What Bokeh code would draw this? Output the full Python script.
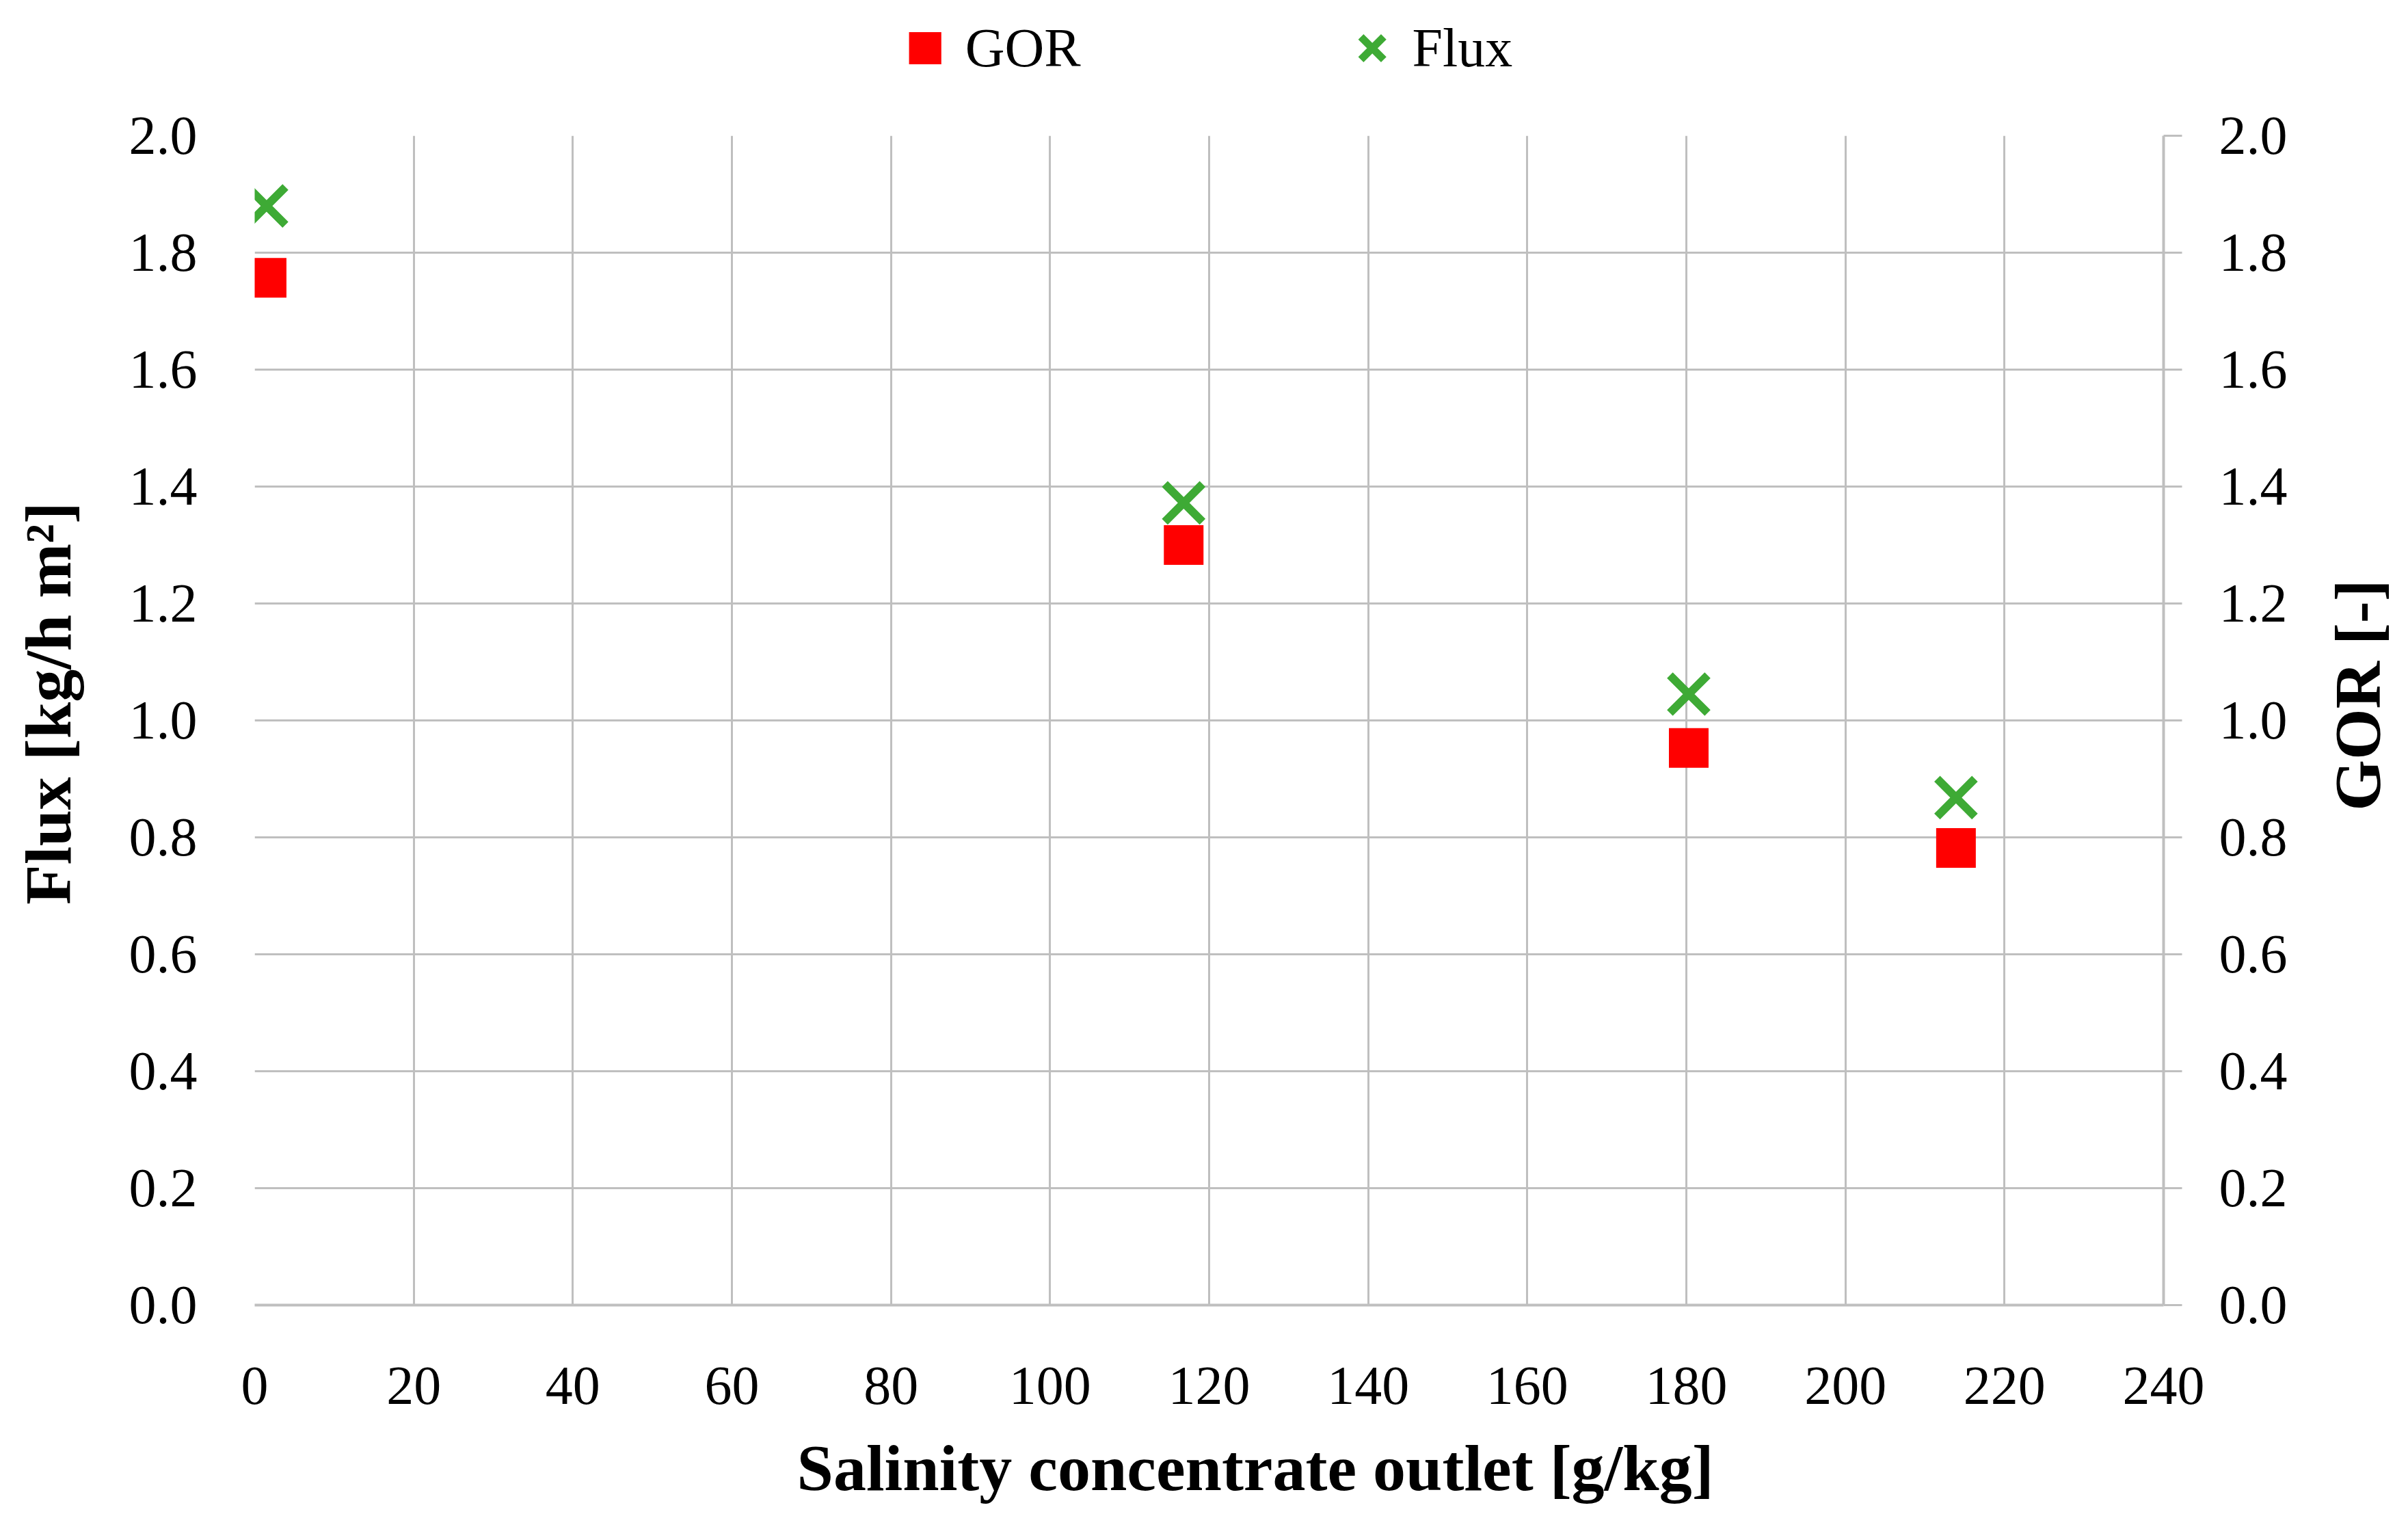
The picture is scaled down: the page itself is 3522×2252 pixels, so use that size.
import math
from bokeh.plotting import figure
from bokeh.layouts import column, row
from bokeh.models import (Range1d, LinearAxis, Legend, LegendItem, FixedTicker,
                          PrintfTickFormatter, Title, Label)
from bokeh.embed import file_html
from bokeh.resources import INLINE

# ---- data ----
salinity = [1.5, 116.8, 180.3, 213.9]          # g/kg
gor = [1.757, 1.300, 0.953, 0.782]             # GOR [-] (right axis)
flux = [1.880, 1.372, 1.045, 0.868]            # Flux [kg/h m2] (left axis)
x_ticks = [0, 20, 40, 60, 80, 100, 120, 140, 160, 180, 200, 220, 240]
y_ticks = [0.0, 0.2, 0.4, 0.6, 0.8, 1.0, 1.2, 1.4, 1.6, 1.8, 2.0]
series_names = ["GOR", "Flux"]
x_title = "Salinity  concentrate outlet [g/kg]"
left_title = "Flux [kg/h m²]"
right_title = "GOR [-]"

FONT = "Liberation Serif"
GRID = "#BFBFBF"
RED = "#FF0000"
GREEN = "#3EAA35"
TICK_FS = "80px"
TITLE_FS = "96px"

TOTAL_W = 3506
LEG_H = 140
MAIN_H = 2236 - LEG_H
LEFT_W = 180
MAIN_W = 3170
RIGHT_W = TOTAL_W - LEFT_W - MAIN_W


def blank(width, height, xr=(0, 1), yr=(0, 1)):
    f = figure(width=width, height=height, output_backend="svg",
               toolbar_location=None, title=None,
               x_range=Range1d(*xr), y_range=Range1d(*yr),
               x_axis_type=None, y_axis_type=None,
               min_border_left=0, min_border_right=0,
               min_border_top=0, min_border_bottom=0)
    f.outline_line_color = None
    f.xgrid.visible = False
    f.ygrid.visible = False
    f.background_fill_color = "white"
    f.border_fill_color = "white"
    return f


# ---------------- main chart ----------------
p = figure(width=MAIN_W, height=MAIN_H, output_backend="svg",
           toolbar_location=None, title=None,
           x_range=Range1d(0, 240), y_range=Range1d(0, 2),
           min_border_left=192, min_border_right=186,
           min_border_top=58, min_border_bottom=328)
p.extra_y_ranges = {"gor": Range1d(0, 2)}
p.outline_line_color = None
p.background_fill_color = "white"
p.border_fill_color = "white"

p.xgrid.ticker = FixedTicker(ticks=x_ticks)
p.ygrid.ticker = FixedTicker(ticks=y_ticks)
for g in (p.xgrid, p.ygrid):
    g.grid_line_color = GRID
    g.grid_line_width = 3

xa = p.xaxis[0]
xa.ticker = FixedTicker(ticks=x_ticks)
xa.axis_line_color = GRID
xa.axis_line_width = 4
xa.major_tick_line_color = None
xa.minor_tick_line_color = None
xa.major_label_standoff = 85
xa.major_label_text_font = FONT
xa.major_label_text_font_size = TICK_FS
xa.major_label_text_color = "black"

xt = Title(text=x_title, align="left", offset=793,
           text_font=FONT, text_font_style="bold", text_font_size=TITLE_FS,
           text_color="black", standoff=70)
p.add_layout(xt, "below")

ya = p.yaxis[0]
ya.ticker = FixedTicker(ticks=y_ticks)
ya.formatter = PrintfTickFormatter(format="%.1f")
ya.axis_line_color = None
ya.major_tick_line_color = None
ya.minor_tick_line_color = None
ya.major_label_standoff = 78
ya.major_label_text_font = FONT
ya.major_label_text_font_size = TICK_FS
ya.major_label_text_color = "black"

ra = LinearAxis(y_range_name="gor", ticker=FixedTicker(ticks=y_ticks),
                formatter=PrintfTickFormatter(format="%.1f"))
ra.axis_line_color = GRID
ra.axis_line_width = 4
ra.major_tick_line_color = GRID
ra.major_tick_line_width = 3
ra.major_tick_in = 0
ra.major_tick_out = 27
ra.minor_tick_line_color = None
ra.major_label_standoff = 54
ra.major_label_text_font = FONT
ra.major_label_text_font_size = TICK_FS
ra.major_label_text_color = "black"
p.add_layout(ra, "right")

r_gor = p.scatter(salinity, gor, marker="square", size=58, fill_color=RED,
                  line_color=None, y_range_name="gor")
r_flux = p.scatter(salinity, flux, marker="x", size=78, line_color=GREEN,
                   line_width=12)

# ---------------- axis titles (side strips; frames align with the chart) ----
lfig = blank(LEFT_W, MAIN_H)
lfig.add_layout(Label(x=70, y=880, x_units="screen", y_units="screen",
                      text=left_title, angle=math.pi / 2,
                      text_align="center", text_baseline="middle",
                      text_font=FONT, text_font_style="bold",
                      text_font_size=TITLE_FS, text_color="black"))

rfig = blank(RIGHT_W, MAIN_H)
rfig.add_layout(Label(x=98, y=892, x_units="screen", y_units="screen",
                      text=right_title, angle=math.pi / 2,
                      text_align="center", text_baseline="middle",
                      text_font=FONT, text_font_style="bold",
                      text_font_size=TITLE_FS, text_color="black"))

# ---------------- legend strip ----------------
# the legend samples use the series values, placed outside this strip's ranges
lg = blank(TOTAL_W, LEG_H, xr=(-3, -2), yr=(-3, -2))
l_gor = lg.scatter(salinity, gor, marker="square", size=47, fill_color=RED,
                   line_color=None)
l_flux = lg.scatter(salinity, flux, marker="x", size=47, line_color=GREEN,
                    line_width=11)
legend = Legend(items=[LegendItem(label=series_names[0], renderers=[l_gor]),
                       LegendItem(label=series_names[1], renderers=[l_flux])],
                orientation="horizontal", location="center",
                glyph_width=118, glyph_height=118, label_standoff=-12,
                spacing=367, padding=0, margin=0,
                border_line_color=None, background_fill_alpha=0,
                label_text_font=FONT, label_text_font_size="80px",
                label_text_color="black")
lg.add_layout(legend, "center")

layout = column(lg, row(lfig, p, rfig, spacing=0), spacing=0)
open("out.html", "w").write(file_html(layout, INLINE))
